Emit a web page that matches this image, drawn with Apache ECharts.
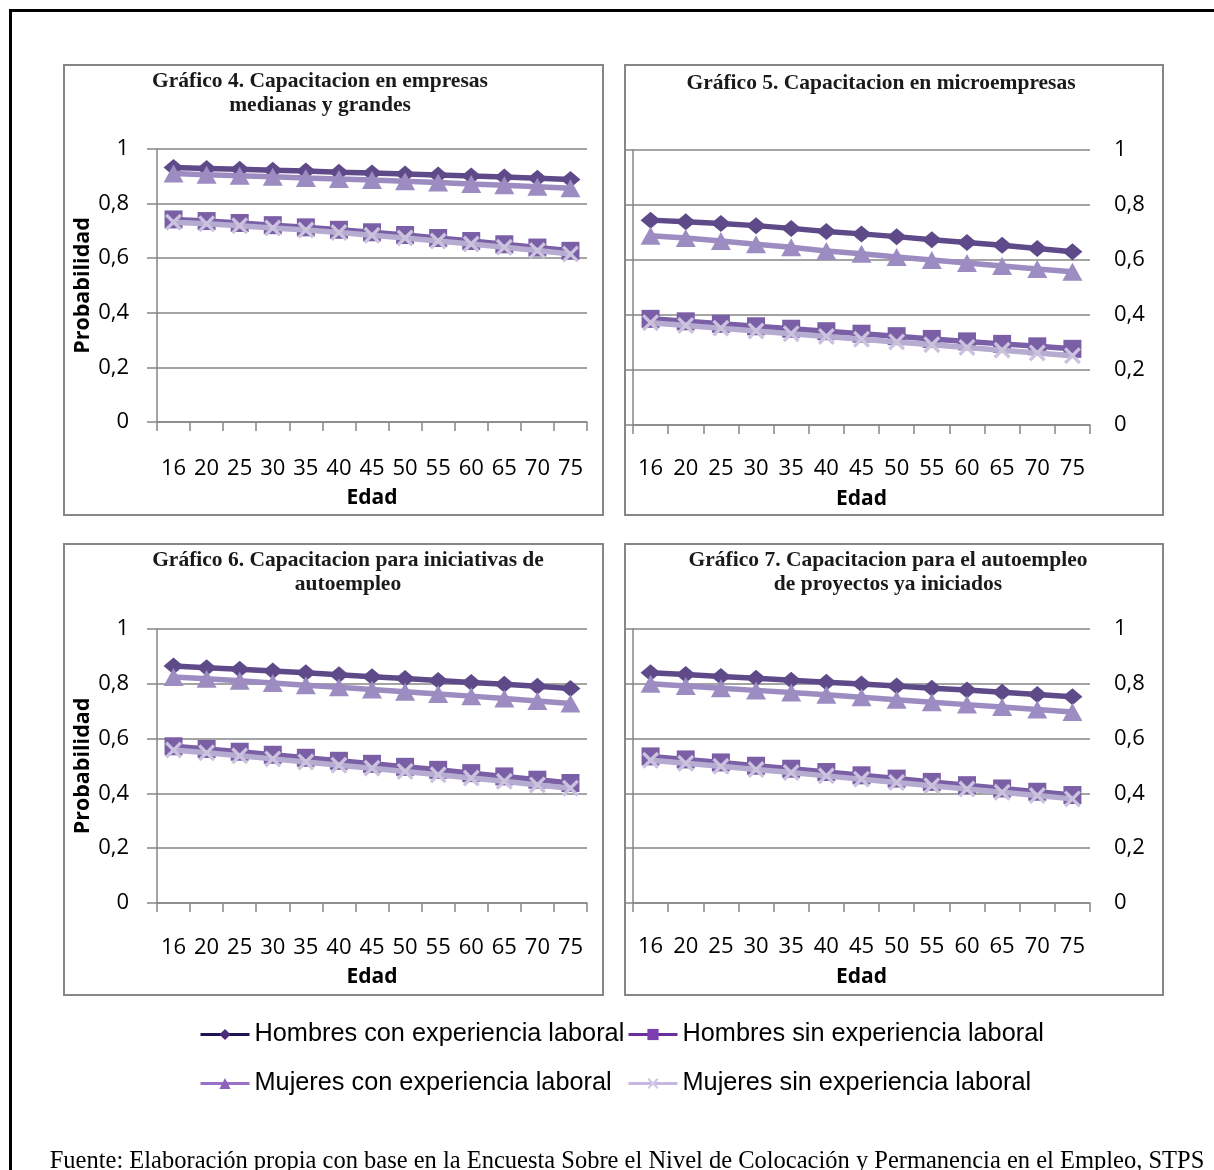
<!DOCTYPE html>
<html>
<head>
<meta charset="utf-8">
<script src="https://cdn.jsdelivr.net/npm/echarts@6/dist/echarts.min.js"></script>
<style>
  html, body { margin: 0; padding: 0; background: #ffffff; }
  #chart { width: 1214px; height: 1170px; }
</style>
</head>
<body>
<div id="chart"></div>
<script>
// Edades (categorías del eje X)
const edades = ['16', '20', '25', '30', '35', '40', '45', '50', '55', '60', '65', '70', '75'];

// Nombres de las series
const nombres = [
  'Hombres con experiencia laboral',
  'Hombres sin experiencia laboral',
  'Mujeres con experiencia laboral',
  'Mujeres sin experiencia laboral'
];

// Gráfico 4. Capacitación en empresas medianas y grandes
const g4HombresCon = [0.932, 0.929, 0.926, 0.922, 0.919, 0.915, 0.912, 0.908, 0.905, 0.901, 0.897, 0.893, 0.888];
const g4HombresSin = [0.742, 0.736, 0.729, 0.721, 0.713, 0.704, 0.695, 0.685, 0.674, 0.663, 0.651, 0.639, 0.627];
const g4MujeresCon = [0.910, 0.906, 0.902, 0.898, 0.894, 0.890, 0.886, 0.882, 0.877, 0.872, 0.867, 0.862, 0.856];
const g4MujeresSin = [0.732, 0.726, 0.719, 0.711, 0.703, 0.694, 0.684, 0.674, 0.663, 0.652, 0.640, 0.628, 0.615];

// Gráfico 5. Capacitación en microempresas
const g5HombresCon = [0.745, 0.739, 0.733, 0.725, 0.715, 0.704, 0.695, 0.685, 0.674, 0.664, 0.654, 0.642, 0.630];
const g5HombresSin = [0.386, 0.377, 0.368, 0.359, 0.350, 0.341, 0.332, 0.323, 0.313, 0.304, 0.295, 0.286, 0.277];
const g5MujeresCon = [0.688, 0.680, 0.669, 0.657, 0.646, 0.633, 0.623, 0.611, 0.600, 0.589, 0.578, 0.567, 0.557];
const g5MujeresSin = [0.372, 0.362, 0.352, 0.342, 0.332, 0.322, 0.312, 0.302, 0.292, 0.282, 0.272, 0.262, 0.252];

// Gráfico 6. Capacitación para iniciativas de autoempleo
const g6HombresCon = [0.865, 0.859, 0.853, 0.847, 0.840, 0.833, 0.826, 0.819, 0.812, 0.805, 0.798, 0.791, 0.783];
const g6HombresSin = [0.572, 0.562, 0.552, 0.541, 0.530, 0.519, 0.508, 0.497, 0.486, 0.474, 0.462, 0.450, 0.438];
const g6MujeresCon = [0.825, 0.818, 0.811, 0.803, 0.795, 0.787, 0.779, 0.771, 0.763, 0.755, 0.746, 0.737, 0.728];
const g6MujeresSin = [0.558, 0.548, 0.537, 0.526, 0.515, 0.503, 0.492, 0.480, 0.468, 0.456, 0.444, 0.431, 0.419];

// Gráfico 7. Capacitación para el autoempleo de proyectos ya iniciados
const g7HombresCon = [0.840, 0.834, 0.827, 0.820, 0.813, 0.806, 0.799, 0.792, 0.784, 0.777, 0.769, 0.761, 0.753];
const g7HombresSin = [0.535, 0.524, 0.513, 0.501, 0.490, 0.478, 0.466, 0.454, 0.442, 0.430, 0.418, 0.406, 0.394];
const g7MujeresCon = [0.800, 0.792, 0.784, 0.776, 0.768, 0.760, 0.751, 0.742, 0.733, 0.724, 0.715, 0.706, 0.697];
const g7MujeresSin = [0.521, 0.510, 0.499, 0.487, 0.476, 0.464, 0.452, 0.440, 0.428, 0.416, 0.404, 0.392, 0.380];

// Títulos de los paneles
const titulos = [
  'Gráfico 4. Capacitacion en empresas\nmedianas y grandes',
  'Gráfico 5. Capacitacion en microempresas',
  'Gráfico 6. Capacitacion para iniciativas de\nautoempleo',
  'Gráfico 7. Capacitacion para el autoempleo\nde proyectos ya iniciados'
];
const fuente = 'Fuente: Elaboración propia con base en la Encuesta Sobre el Nivel de Colocación y Permanencia en el Empleo, STPS';

const GRIS = '#868686';
const SANS = '"Open Sans", "Noto Sans", sans-serif';
const SERIF = '"Liberation Serif", "Times New Roman", serif';

// Estilos de cada serie en las gráficas
const estilos = [
  { symbol: 'diamond', size: [20, 17], line: '#5f4a89', fill: '#5f4a89' },
  { symbol: 'rect', size: [18, 18], line: '#7a5ea6', fill: '#7a5ea6' },
  { symbol: 'triangle', size: [20, 18], line: '#9d8cc1', fill: '#9d8cc1' },
  { symbol: 'path://M0,1.4L1.4,0L5,3.6L8.6,0L10,1.4L6.4,5L10,8.6L8.6,10L5,6.4L1.4,10L0,8.6L3.6,5Z', size: [17, 17], line: '#b6abd0', fill: '#cbc2de' }
];

// Colores de la leyenda
const leyenda = [
  { line: '#1c1452', fill: '#4a2b7c' },
  { line: '#6a2e9e', fill: '#7c3eae' },
  { line: '#9a70c8', fill: '#8e63c0' },
  { line: '#c6b8e2', fill: '#d2c7ea' }
];

// Posiciones de las rejillas (panel izquierdo / derecho)
const grids = [
  { left: 157, top: 149, width: 430, height: 273 },
  { left: 633, top: 150, width: 457, height: 275 },
  { left: 157, top: 629, width: 430, height: 274 },
  { left: 633, top: 629, width: 457, height: 274 }
];

// Separación de etiquetas y título del eje X en cada panel
const xLabelMargin = [36, 33, 34, 33];
const xNameGap = [66, 64, 64, 64];

const datos = [
  [g4HombresCon, g4HombresSin, g4MujeresCon, g4MujeresSin],
  [g5HombresCon, g5HombresSin, g5MujeresCon, g5MujeresSin],
  [g6HombresCon, g6HombresSin, g6MujeresCon, g6MujeresSin],
  [g7HombresCon, g7HombresSin, g7MujeresCon, g7MujeresSin]
];

const fmtY = v => (Math.round(v * 10) / 10).toString().replace('.', ',');

const xAxes = grids.map((g, i) => ({
  type: 'category',
  gridIndex: i,
  data: edades,
  boundaryGap: true,
  axisLine: { show: true, lineStyle: { color: GRIS, width: 1.5 } },
  axisTick: { show: true, length: 9, alignWithLabel: false, interval: 0, lineStyle: { color: GRIS, width: 1.5 } },
  axisLabel: { interval: 0, margin: xLabelMargin[i], fontFamily: SANS, fontSize: 22, color: '#000' },
  name: 'Edad',
  nameLocation: 'middle',
  nameGap: xNameGap[i],
  nameTextStyle: { fontFamily: SANS, fontSize: 21, fontWeight: 'bold', color: '#000' },
  splitLine: { show: false }
}));

const yBase = {
  type: 'value', min: 0, max: 1, interval: 0.2,
  axisLine: { show: true, lineStyle: { color: GRIS, width: 1.5 } },
  axisTick: { show: true, length: 10, lineStyle: { color: GRIS, width: 1.5 } },
  splitLine: { show: true, lineStyle: { color: GRIS, width: 1.5 } },
  axisLabel: { formatter: fmtY, fontFamily: SANS, fontSize: 22, color: '#000' }
};

const yAxes = [];
const yIndexSeries = [];
grids.forEach((g, i) => {
  if (i % 2 === 0) {
    // Eje Y a la izquierda con etiquetas y título
    yIndexSeries.push(yAxes.length);
    yAxes.push(Object.assign({}, yBase, {
      gridIndex: i,
      position: 'left',
      axisLabel: Object.assign({}, yBase.axisLabel, { margin: 28 }),
      name: 'Probabilidad',
      nameLocation: 'middle',
      nameGap: 52,
      nameTextStyle: { fontFamily: SANS, fontSize: 21.5, fontWeight: 'bold', color: '#000' }
    }));
  } else {
    // Línea del eje a la izquierda, etiquetas a la derecha
    yIndexSeries.push(yAxes.length);
    yAxes.push(Object.assign({}, yBase, {
      gridIndex: i,
      position: 'left',
      axisTick: { show: true, length: 8, lineStyle: { color: GRIS, width: 1.5 } },
      axisLabel: { show: false }
    }));
    yAxes.push(Object.assign({}, yBase, {
      gridIndex: i,
      position: 'right',
      axisLine: { show: false },
      axisTick: { show: false },
      splitLine: { show: false },
      axisLabel: Object.assign({}, yBase.axisLabel, { margin: 24 })
    }));
  }
});

const series = [];
datos.forEach((panel, gi) => {
  panel.forEach((vals, si) => {
    const e = estilos[si];
    series.push({
      type: 'line',
      name: nombres[si],
      data: vals,
      xAxisIndex: gi,
      yAxisIndex: yIndexSeries[gi],
      symbol: e.symbol,
      symbolSize: e.size,
      showSymbol: true,
      showAllSymbol: true,
      lineStyle: { color: e.line, width: 5.5 },
      itemStyle: { color: e.fill },
      z: 2 + si,
      animation: false,
      emphasis: { disabled: true }
    });
  });
});

// Leyenda en dos filas, columnas alineadas
const legPos = [
  { left: 199, top: 1022 },
  { left: 627, top: 1022 },
  { left: 199, top: 1071 },
  { left: 627, top: 1071 }
];
const legends = nombres.map((n, i) => ({
  left: legPos[i].left,
  top: legPos[i].top,
  padding: 0,
  itemWidth: 49,
  itemHeight: 14,
  itemGap: 0,
  selectedMode: false,
  textStyle: { fontFamily: '"Liberation Sans", Arial, sans-serif', fontSize: 25.3, color: '#000' },
  data: [{
    name: n,
    itemStyle: { color: leyenda[i].fill, borderWidth: 0 },
    lineStyle: { color: leyenda[i].line, width: 3 }
  }]
}));

// Marcos, títulos y nota de fuente
const paneles = [
  { x: 64, y: 65, w: 539, h: 450 },
  { x: 625, y: 65, w: 538, h: 450 },
  { x: 64, y: 544, w: 539, h: 451 },
  { x: 625, y: 544, w: 538, h: 451 }
];
const titPos = [
  { x: 320, y: 69 },
  { x: 881, y: 71 },
  { x: 348, y: 548 },
  { x: 888, y: 548 }
];

const graphic = [
  { type: 'rect', shape: { x: 10.5, y: 10.5, width: 1400, height: 1400 }, style: { fill: 'none', stroke: '#000', lineWidth: 3 }, silent: true, z: 0 }
];
paneles.forEach(p => graphic.push({
  type: 'rect', shape: { x: p.x, y: p.y, width: p.w, height: p.h },
  style: { fill: 'none', stroke: GRIS, lineWidth: 2 }, silent: true, z: 0
}));
titulos.forEach((t, i) => graphic.push({
  type: 'text', x: titPos[i].x, y: titPos[i].y, silent: true, z: 10,
  style: { text: t, fill: '#1a1a1a', font: 'bold 21.5px ' + SERIF, textAlign: 'center', textVerticalAlign: 'top', lineHeight: 24 }
}));
graphic.push({
  type: 'text', x: 627, y: 1149, silent: true, z: 10,
  style: { text: fuente, fill: '#000', font: '24.5px ' + SERIF, textAlign: 'center', textVerticalAlign: 'top' }
});

const chart = echarts.init(document.getElementById('chart'), null, { renderer: 'canvas' });
chart.setOption({
  backgroundColor: '#ffffff',
  animation: false,
  grid: grids,
  xAxis: xAxes,
  yAxis: yAxes,
  legend: legends,
  series: series,
  graphic: graphic
});
</script>
</body>
</html>
